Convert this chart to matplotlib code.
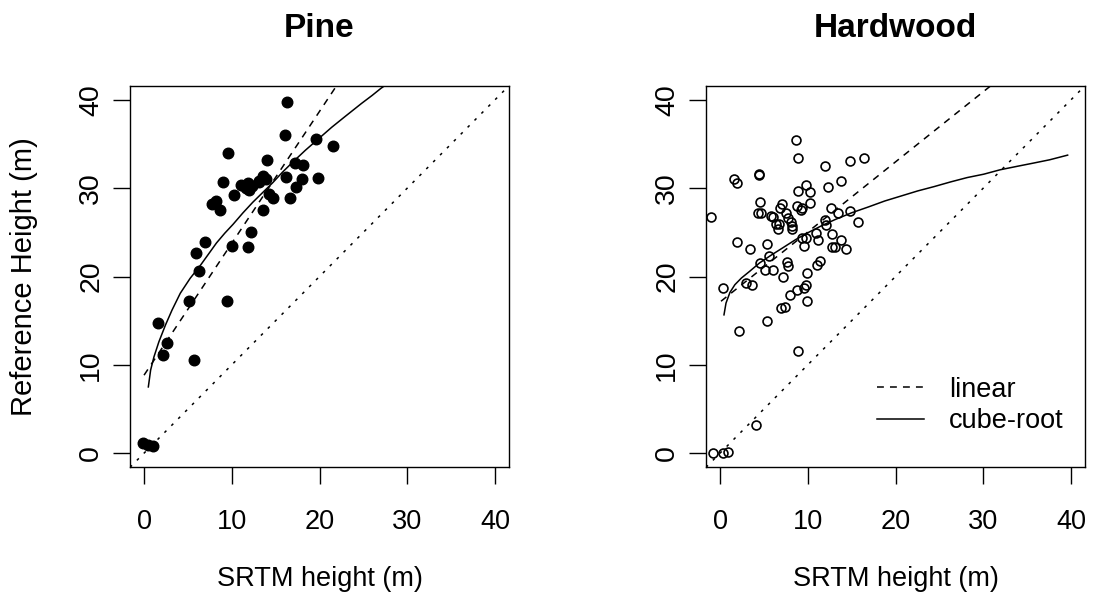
import matplotlib
matplotlib.use("Agg")
import matplotlib.pyplot as plt
from matplotlib.lines import Line2D

plt.rcParams['font.family'] = ['Liberation Sans', 'DejaVu Sans']

# ---------------- data ----------------
pine_x = [16.34, 16.08, 19.6, 21.52, 9.62, 14.05, 17.2, 18.1, 13.52, 13.9,
          16.2, 18.0, 19.83, 9.0, 11.1, 11.9, 13.07, 12.0, 11.64, 17.3,
          10.2, 14.2, 14.7, 16.68, 8.19, 7.8, 8.7, 13.6, 12.24, 6.98,
          10.07, 11.9, 5.97, 6.23, 5.18, 9.43, 1.62, 2.63, 2.18, 5.67,
          -0.11, 0.45, 1.0, 12.3, 13.15]
pine_y = [39.73, 36.02, 35.56, 34.8, 33.97, 33.21, 32.9, 32.6, 31.4, 31.0,
          31.3, 31.0, 31.2, 30.75, 30.34, 30.56, 30.8, 29.8, 30.07, 30.18,
          29.2, 29.3, 28.93, 28.93, 28.6, 28.17, 27.5, 27.5, 25.06, 23.9,
          23.5, 23.3, 22.7, 20.66, 17.25, 17.25, 14.79, 12.5, 11.15, 10.54,
          1.14, 0.87, 0.8, 30.2, 30.72]

hard_x = [-1.05, 0.38, 1.58, 1.95, 1.95, 2.18, 2.93, 3.38, 3.61, 4.43,
          4.43, 4.51, 4.32, 4.69, 4.58, 5.37, 5.56, 5.11, 5.37, 5.82,
          6.08, 6.38, 6.57, 6.76, 6.0, 6.84, 7.02, 7.14, 6.91, 7.36,
          7.51, 7.7, 7.59, 7.77, 8.08, 8.19, 8.19, 7.96, 8.64, 8.83,
          8.83, 8.75, 9.2, 9.31, 9.31, 9.58, 9.77, 8.75, 9.58, 9.77,
          8.83, 9.77, 10.22, 10.22, 9.95, 9.95, 10.97, 11.15, 11.0, 11.38,
          11.94, 11.94, 12.09, 12.32, 12.69, 12.77, 12.77, 13.07, 13.45, 13.82,
          13.82, 14.38, 14.76, 14.84, 16.45, 15.77, 4.13, -0.83, 0.38, 0.94]
hard_y = [26.77, 18.69, 31.01, 30.64, 23.92, 13.84, 19.26, 23.13, 19.07, 31.58,
          31.47, 28.44, 27.22, 27.15, 21.54, 23.73, 22.29, 20.70, 15.01, 26.84,
          26.73, 25.9, 25.4, 26.0, 20.70, 27.79, 28.25, 19.91, 16.42, 16.6,
          27.22, 26.65, 21.61, 21.16, 26.16, 25.71, 25.33, 17.93, 35.45, 33.4,
          29.69, 27.98, 27.53, 27.79, 24.38, 23.43, 24.38, 18.5, 18.69, 19.07,
          11.6, 30.33, 29.57, 28.36, 20.4, 17.18, 24.95, 24.11, 21.35, 21.73,
          32.46, 26.39, 25.78, 30.18, 27.79, 24.76, 23.36, 23.36, 27.22, 30.82,
          24.11, 23.13, 33.02, 27.41, 33.4, 26.16, 3.15, 0.04, 0.04, 0.11]

# fitted curves
pine_lin_x = [0.0, 23.0]
pine_lin_y = [8.83, 43.17]
pine_cub_x = [0.49, 0.75, 1.13, 1.69, 2.44, 3.19, 4.13, 5.26, 6.38, 7.32,
              8.26, 9.2, 10.14, 11.27, 12.39, 13.52, 14.65, 15.77, 16.9, 18.4,
              19.9, 21.4, 22.9, 24.8, 26.0, 27.0, 28.0]
pine_cub_y = [7.5, 9.4, 10.9, 12.6, 14.5, 16.2, 18.1, 19.8, 21.2, 22.5,
              23.8, 24.9, 25.9, 27.2, 28.4, 29.5, 30.6, 31.8, 32.9, 34.3,
              35.6, 36.9, 38.1, 39.6, 40.5, 41.3, 42.0]

hard_lin_x = [0.11, 15.0, 25.0, 31.5]
hard_lin_y = [17.2, 29.0, 36.95, 42.1]
hard_cub_x = [0.45, 0.68, 1.13, 1.69, 2.44, 3.38, 4.51, 5.82, 7.14, 8.64,
              10.14, 11.64, 13.15, 15.02, 16.9, 18.78, 20.66, 22.54, 24.41, 26.29,
              28.17, 30.05, 31.92, 33.8, 35.68, 37.56, 39.62]
hard_cub_y = [15.66, 16.99, 18.2, 19.07, 19.83, 20.59, 21.54, 22.41, 23.24, 24.19,
              25.02, 25.78, 26.46, 27.22, 27.87, 28.55, 29.12, 29.69, 30.18, 30.71,
              31.2, 31.58, 32.08, 32.46, 32.83, 33.21, 33.74]

ticks = [0, 10, 20, 30, 40]
titles = ["Pine", "Hardwood"]
xlab = "SRTM height (m)"
ylab = "Reference Height (m)"
leg_labels = ["linear", "cube-root"]

# ---------------- figure ----------------
W, H = 1094, 601
fig = plt.figure(figsize=(W / 100, H / 100), dpi=100)

FS = 19.5
LW = 1.1
dash = (4.5, 4.0)
dot = (1.8, 4.6)

def make_ax(left_px, right_px):
    top_px, bot_px = 85.7, 467.3
    ax = fig.add_axes([left_px / W, 1 - bot_px / H, (right_px - left_px) / W,
                       (bot_px - top_px) / H])
    ax.set_xlim(-1.6, 41.6)
    ax.set_ylim(-1.6, 41.6)
    ax.set_xticks(ticks)
    ax.set_yticks(ticks)
    ax.set_xticklabels([str(t) for t in ticks])
    ax.set_yticklabels([str(t) for t in ticks], rotation=90, va='center',
                       fontsize=20.5)
    ax.tick_params(axis='both', length=12, width=1.0, labelsize=FS, direction='out')
    ax.tick_params(axis='y', labelsize=20.5)
    ax.tick_params(axis='x', pad=18)
    ax.tick_params(axis='y', pad=6.5)
    for s in ax.spines.values():
        s.set_linewidth(1.0)
    ax.set_xlabel(xlab, fontsize=FS)
    ax.xaxis.set_label_coords(0.5, -0.258)
    return ax

ax1 = make_ax(130, 509)
ax2 = make_ax(706, 1085)

# Pine
ax1.axline((0, 0), (1, 1), color='black', lw=LW, linestyle=(0, dot))
ax1.plot(pine_lin_x, pine_lin_y, color='black', lw=LW, linestyle=(0, dash))
ax1.plot(pine_cub_x, pine_cub_y, color='black', lw=LW)
ax1.plot(pine_x, pine_y, linestyle='none', marker='o', markersize=7.6,
         color='black')
ax1.set_title(titles[0], fontsize=24, fontweight='bold', pad=35)
ax1.set_ylabel(ylab, fontsize=21)
ax1.yaxis.set_label_coords(-0.243, 0.5)

# Hardwood
ax2.axline((0, 0), (1, 1), color='black', lw=LW, linestyle=(0, dot))
ax2.plot(hard_lin_x, hard_lin_y, color='black', lw=LW, linestyle=(0, dash))
ax2.plot(hard_cub_x, hard_cub_y, color='black', lw=LW)
ax2.plot(hard_x, hard_y, linestyle='none', marker='o', markersize=6.4,
         markerfacecolor='none', markeredgecolor='black', markeredgewidth=1.2)
ax2.set_title(titles[1], fontsize=24, fontweight='bold', pad=35)

handles = [Line2D([], [], color='black', lw=LW, linestyle=(0, dash)),
           Line2D([], [], color='black', lw=LW)]
ax2.legend(handles, leg_labels, loc='center left', bbox_to_anchor=(0.451, 0.162),
           frameon=False, fontsize=FS, handlelength=1.75, handletextpad=0.9,
           labelspacing=0.19, borderpad=0.0, borderaxespad=0.0)

fig.savefig("out.png", dpi=100)
